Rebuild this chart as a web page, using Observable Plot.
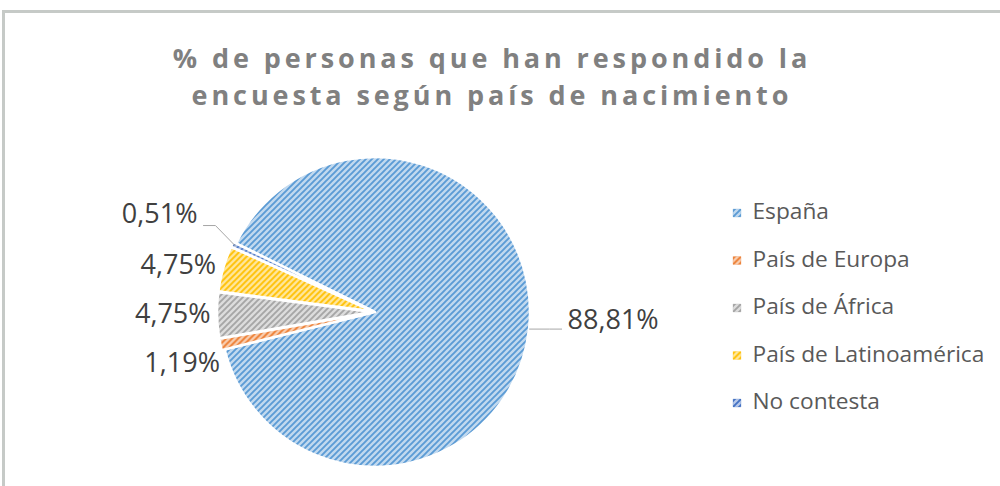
<!DOCTYPE html>
<html>
<head>
<meta charset="utf-8">
<script src="https://cdn.jsdelivr.net/npm/d3@7"></script>
<script src="https://cdn.jsdelivr.net/npm/@observablehq/plot@0.6"></script>
<style>
  body { margin: 0; background: #fff; }
  #wrap { position: relative; width: 1000px; height: 486px; overflow: hidden; font-family: "Open Sans", sans-serif; background: #fff; }
  #frame { position: absolute; left: 2px; top: 10px; width: 1100px; height: 600px; border-top: 3px solid #c6cac7; border-left: 3px solid #c6cac7; }
  #chart { position: absolute; left: 0; top: 0; }
  #title { position: absolute; left: 0; top: 39px; width: 984px; text-align: center; color: #808080; font-weight: 700; font-size: 27px; letter-spacing: 3.9px; line-height: 37px; }
</style>
</head>
<body>
<div id="wrap">
  <div id="frame"></div>
  <div id="chart"></div>
  <div id="title">% de personas que han respondido la<br>encuesta según país de nacimiento</div>
</div>
<script>
// ---- data ----
const categories = ["España", "País de Europa", "País de África", "País de Latinoamérica", "No contesta"];
const values = [88.81, 1.19, 4.75, 4.75, 0.51];
const valueLabels = ["88,81%", "1,19%", "4,75%", "4,75%", "0,51%"];
const palette = ["#5b9bd5", "#ed7d31", "#a5a5a5", "#ffc000", "#4472c4"];

const rows = categories.map((name, i) => ({name, value: values[i], label: valueLabels[i], i}));

// ---- layout ----
const W = 1000, H = 486, CX = 375, CY = 312, R = 155;
const firstSliceAngle = 296.3; // degrees, clockwise from 12 o'clock
const explode = 3;
const labelGap = 49, labelRadius = R + 10, leaderOffset = 38;
const legendX = 736.5, legendTextX = 752, legendTop = 212.5, legendStep = 47.5;

const a0 = firstSliceAngle * Math.PI / 180;
const arcs = d3.pie().sort(null).value(d => d.value).startAngle(a0).endAngle(a0 + 2 * Math.PI)(rows);
const maxValue = d3.max(values);

// label placement (offsets from the pie centre, y downward)
const labels = arcs.map(a => {
  const t = (a.startAngle + a.endAngle) / 2;
  const ex = R * Math.sin(t), ey = -R * Math.cos(t);
  return {d: a.data, t, side: ex < 0 ? -1 : 1, ex, ey, y0: ey, y: ey};
});
for (const side of [-1, 1]) {
  const g = labels.filter(l => l.side === side).sort((p, q) => p.y - q.y);
  for (let k = 0; k < 300; k++) {
    for (let j = 1; j < g.length; j++) {
      const gap = g[j].y - g[j - 1].y;
      if (gap < labelGap) { const m = (labelGap - gap) / 2; g[j].y += m; g[j - 1].y -= m; }
    }
  }
}
const leaders = [];
labels.forEach(l => {
  const displaced = Math.abs(l.y - l.y0) > 25;
  l.leader = displaced || l.d.value === maxValue;
  if (l.leader) {
    const lineY = displaced ? l.y + 5 : l.ey;
    l.ty = lineY - 7;
    l.tx = l.ex + l.side * leaderOffset;
    leaders.push({i: l.d.i, x: l.tx - l.side * 6, y: lineY});
    leaders.push({i: l.d.i, x: l.tx - l.side * 18, y: lineY});
    leaders.push({i: l.d.i, x: l.ex, y: l.ey});
  } else {
    l.ty = l.y;
    l.tx = l.side * Math.sqrt(Math.max(labelRadius * labelRadius - l.y * l.y, 0));
  }
});

const legendRows = rows.map((d, k) => ({...d, lx: legendX - CX, tx: legendTextX - CX, ly: legendTop + k * legendStep - CY}));

// ---- pie slices (custom render mark using Plot's scales) ----
function pieMark(index, scales) {
  const x0 = scales.x(0), y0 = scales.y(0), rad = scales.x(R) - scales.x(0);
  const g = d3.create("svg:g");
  const defs = g.append("defs");
  palette.forEach((c, i) => {
    const p = defs.append("pattern").attr("id", `hatch-${i}`)
      .attr("patternUnits", "userSpaceOnUse").attr("width", 6).attr("height", 6);
    p.append("rect").attr("width", 6).attr("height", 6).attr("fill", d3.interpolateRgb(c, "#fff")(0.62));
    p.append("path").attr("d", "M-1.5,1.5L1.5,-1.5M0,6L6,0M4.5,7.5L7.5,4.5")
      .attr("stroke", c).attr("stroke-width", 1.9);
  });
  const arc = d3.arc().innerRadius(0).outerRadius(rad);
  for (const a of arcs) {
    const t = (a.startAngle + a.endAngle) / 2;
    const e = a.data.value === maxValue ? 0 : explode;
    g.append("path").attr("d", arc(a))
      .attr("transform", `translate(${x0 + e * Math.sin(t)},${y0 - e * Math.cos(t)})`)
      .attr("fill", `url(#hatch-${a.data.i})`)
      .attr("stroke", "#fff").attr("stroke-width", 2.5).attr("stroke-linejoin", "round");
  }
  return g.node();
}

const chart = Plot.plot({
  width: W, height: H, margin: 0,
  x: {domain: [-CX, W - CX], range: [0, W], axis: null},
  y: {domain: [-CY, H - CY], range: [0, H], axis: null},
  style: {fontFamily: "'Open Sans', sans-serif", background: "transparent", overflow: "visible"},
  marks: [
    pieMark,
    Plot.line(leaders, {x: "x", y: "y", z: "i", stroke: "#a6a6a6", strokeWidth: 1}),
    Plot.text(labels.filter(l => l.side < 0), {x: "tx", y: "ty", dy: -4, text: d => d.d.label, textAnchor: "end", fontSize: 27, fill: "#404040"}),
    Plot.text(labels.filter(l => l.side > 0), {x: "tx", y: "ty", dy: -2, text: d => d.d.label, textAnchor: "start", fontSize: 27, fill: "#404040"}),
    Plot.dot(legendRows, {x: "lx", y: "ly", symbol: "square", r: 4.5, fill: d => `url(#hatch-${d.i})`, stroke: d => palette[d.i], strokeWidth: 0.5, strokeOpacity: 0.5}),
    Plot.text(legendRows, {x: "tx", y: "ly", dy: -1, text: "name", textAnchor: "start", fontSize: 22.7, fill: "#595959"})
  ]
});
document.getElementById("chart").appendChild(chart);
</script>
</body>
</html>
